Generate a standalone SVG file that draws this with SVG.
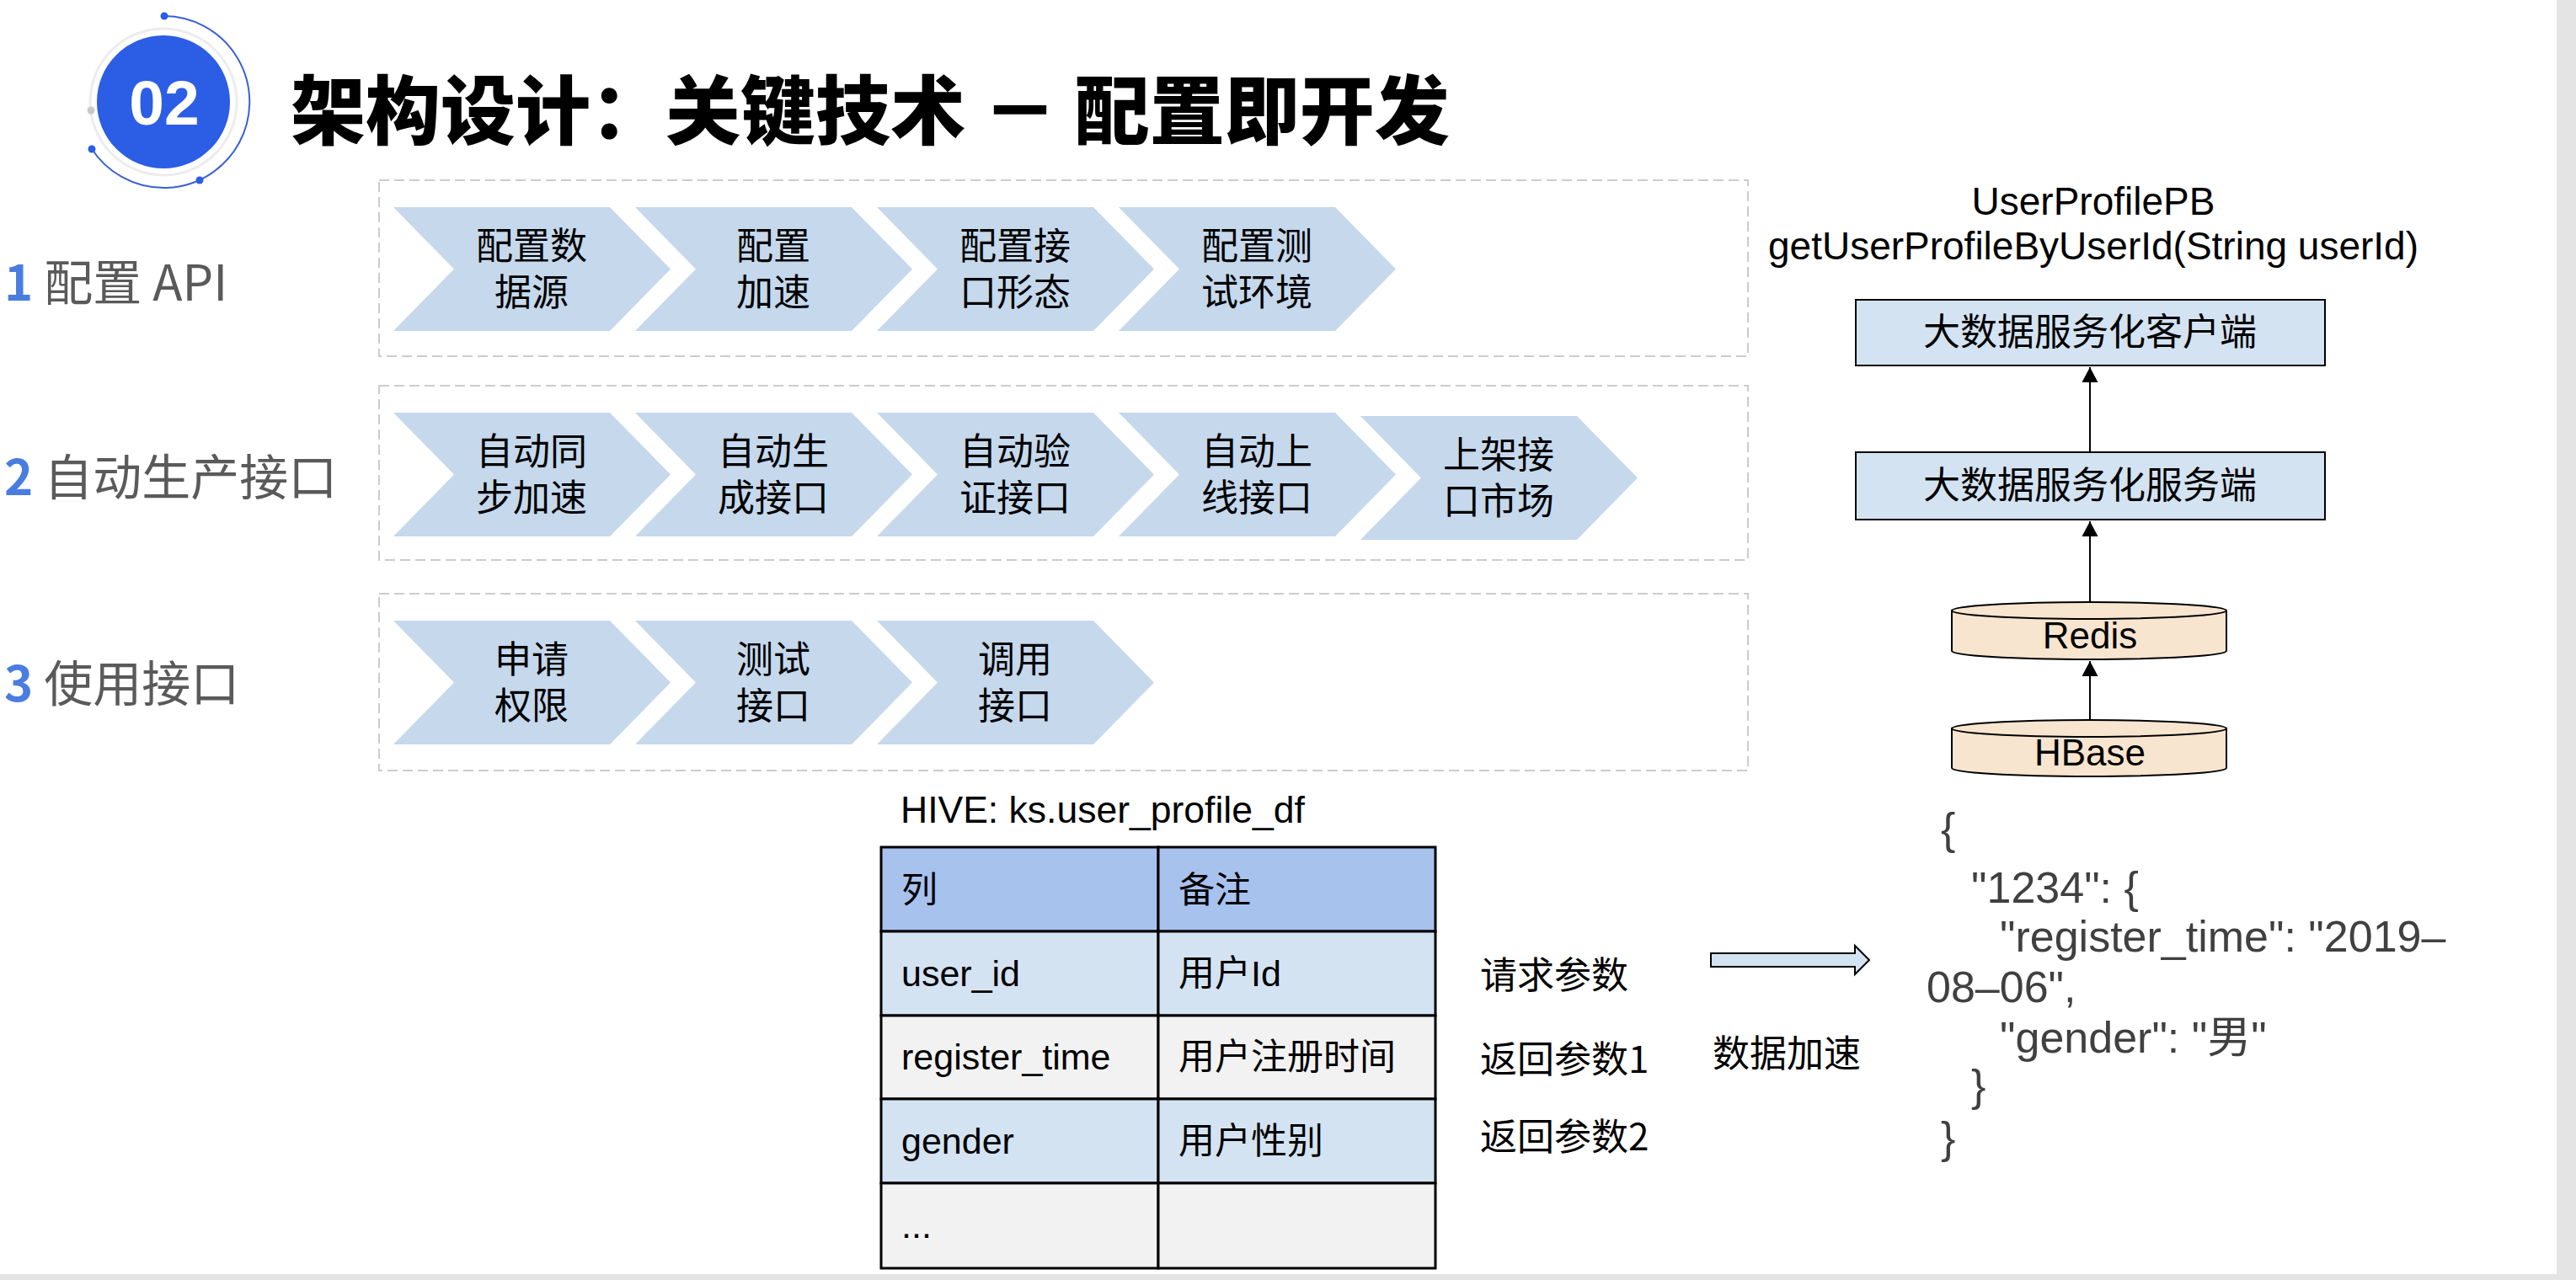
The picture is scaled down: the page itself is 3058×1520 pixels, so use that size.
<svg xmlns="http://www.w3.org/2000/svg" width="3058" height="1520" viewBox="0 0 3058 1520">
  <style>
    .cjk { font-family: "Noto Sans CJK SC", "Liberation Sans", sans-serif; }
    .lat { font-family: "Liberation Sans", "Noto Sans CJK SC", sans-serif; }
    .chev { fill: #c5d8ec; }
    .chevtxt { font-family: "Liberation Sans", "Noto Sans CJK SC", sans-serif; font-size: 44px; fill: #000; text-anchor: middle; }
    .lane { fill: none; stroke: #cccccc; stroke-width: 2; stroke-dasharray: 12 6; }
    .rowlabel { font-family: "Noto Sans CJK SC", sans-serif; font-size: 58px; fill: #5a5a5a; }
    .rownum { fill: #4a7de0; font-weight: bold; }
    .svcbox { fill: #d4e3f2; stroke: #000; stroke-width: 2; }
    .svctxt { font-family: "Noto Sans CJK SC", sans-serif; font-size: 44px; fill: #000; text-anchor: middle; }
    .db { fill: #f8e5cf; stroke: #000; stroke-width: 2; }
    .dbtxt { font-family: "Liberation Sans", sans-serif; font-size: 44px; fill: #000; text-anchor: middle; }
    .link { stroke: #000; stroke-width: 2; fill: none; marker-end: url(#tri); }
    .cell { stroke: #000; stroke-width: 3; }
    .hdr { fill: #a8c2ee; }
    .blue { fill: #d4e3f2; }
    .gray { fill: #f2f2f2; }
    .tbl { font-family: "Liberation Sans", "Noto Sans CJK SC", sans-serif; font-size: 43px; fill: #000; }
    .note { font-family: "Noto Sans CJK SC", "Liberation Sans", sans-serif; font-size: 44px; fill: #000; }
    .json { font-family: "Liberation Sans", "Noto Sans CJK SC", sans-serif; font-size: 52px; fill: #404040; }
  </style>
  <defs>
    <path id="chevron" d="M0,0 H257 L329,73.5 L257,147 H0 L72,73.5 Z"/>
    <marker id="tri" markerUnits="userSpaceOnUse" markerWidth="20" markerHeight="20" refX="18" refY="9.5" orient="auto">
      <path d="M0,0 L18,9.5 L0,19 Z" fill="#000"/>
    </marker>
  </defs>

  <rect width="3058" height="1520" fill="#fff"/>
  <!-- page frame edges -->
  <rect x="3035" y="0" width="23" height="1520" fill="#e4e4e4"/>
  <rect x="0" y="1513" width="3058" height="7" fill="#e4e4e4"/>

  <!-- section badge -->
  <g id="badge">
    <circle cx="194" cy="121" r="87" fill="none" stroke="#ececec" stroke-width="3"/>
    <circle cx="108" cy="131" r="4.5" fill="#c9c9c9"/>
    <path d="M195,19 A102,102 0 1 1 109,177" fill="none" stroke="#3a5fd8" stroke-width="2"/>
    <circle cx="195" cy="19" r="4.5" fill="#2c5de5"/>
    <circle cx="237" cy="214" r="4.5" fill="#2c5de5"/>
    <circle cx="109" cy="177" r="4.5" fill="#2c5de5"/>
    <circle cx="194" cy="121" r="79" fill="#2c5de5"/>
    <text x="195" y="148" font-family="Liberation Sans, sans-serif" font-size="75" font-weight="bold" fill="#fff" text-anchor="middle">02</text>
  </g>

  <g id="title">
    <text x="345" y="164" font-family="Noto Sans CJK SC, sans-serif" font-size="89" font-weight="900" fill="#000">架构设计：关键技术 － 配置即开发</text>
  </g>

  <!-- lane labels -->
  <g id="lane-labels">
    <text class="rowlabel" x="5" y="357"><tspan class="rownum">1</tspan> 配置 API</text>
    <text class="rowlabel" x="5" y="588"><tspan class="rownum">2</tspan> 自动生产接口</text>
    <text class="rowlabel" x="5" y="833"><tspan class="rownum">3</tspan> 使用接口</text>
  </g>

  <!-- lane frames -->
  <g id="lanes">
    <rect class="lane" x="450" y="214" width="1625" height="209"/>
    <rect class="lane" x="450" y="458" width="1625" height="207"/>
    <rect class="lane" x="450" y="705" width="1625" height="210"/>
  </g>

  <!-- lane 1: configure API -->
  <g id="step-1-1"><use href="#chevron" class="chev" x="467" y="246"/><text class="chevtxt" x="631" y="308">配置数<tspan x="631" dy="55">据源</tspan></text></g>
  <g id="step-1-2"><use href="#chevron" class="chev" x="754" y="246"/><text class="chevtxt" x="918" y="308">配置<tspan x="918" dy="55">加速</tspan></text></g>
  <g id="step-1-3"><use href="#chevron" class="chev" x="1041" y="246"/><text class="chevtxt" x="1205" y="308">配置接<tspan x="1205" dy="55">口形态</tspan></text></g>
  <g id="step-1-4"><use href="#chevron" class="chev" x="1328" y="246"/><text class="chevtxt" x="1492" y="308">配置测<tspan x="1492" dy="55">试环境</tspan></text></g>

  <!-- lane 2: generate interface -->
  <g id="step-2-1"><use href="#chevron" class="chev" x="467" y="490"/><text class="chevtxt" x="631" y="552">自动同<tspan x="631" dy="55">步加速</tspan></text></g>
  <g id="step-2-2"><use href="#chevron" class="chev" x="754" y="490"/><text class="chevtxt" x="918" y="552">自动生<tspan x="918" dy="55">成接口</tspan></text></g>
  <g id="step-2-3"><use href="#chevron" class="chev" x="1041" y="490"/><text class="chevtxt" x="1205" y="552">自动验<tspan x="1205" dy="55">证接口</tspan></text></g>
  <g id="step-2-4"><use href="#chevron" class="chev" x="1328" y="490"/><text class="chevtxt" x="1492" y="552">自动上<tspan x="1492" dy="55">线接口</tspan></text></g>
  <g id="step-2-5"><use href="#chevron" class="chev" x="1615" y="494"/><text class="chevtxt" x="1779" y="556">上架接<tspan x="1779" dy="55">口市场</tspan></text></g>

  <!-- lane 3: use interface -->
  <g id="step-3-1"><use href="#chevron" class="chev" x="467" y="737"/><text class="chevtxt" x="631" y="799">申请<tspan x="631" dy="55">权限</tspan></text></g>
  <g id="step-3-2"><use href="#chevron" class="chev" x="754" y="737"/><text class="chevtxt" x="918" y="799">测试<tspan x="918" dy="55">接口</tspan></text></g>
  <g id="step-3-3"><use href="#chevron" class="chev" x="1041" y="737"/><text class="chevtxt" x="1205" y="799">调用<tspan x="1205" dy="55">接口</tspan></text></g>

  <!-- service stack -->
  <g id="api-signature">
    <text class="lat" x="2485" y="255" font-size="46" text-anchor="middle">UserProfilePB</text>
    <text class="lat" x="2485" y="308" font-size="46" text-anchor="middle">getUserProfileByUserId(String userId)</text>
  </g>
  <g id="client">
    <rect class="svcbox" x="2203" y="356" width="557" height="78"/>
    <text class="svctxt" x="2481" y="410">大数据服务化客户端</text>
  </g>
  <g id="server">
    <rect class="svcbox" x="2203" y="537" width="557" height="80"/>
    <text class="svctxt" x="2481" y="592">大数据服务化服务端</text>
  </g>
  <g id="redis">
    <path class="db" d="M2317,725 V773 A163,10 0 0 0 2643,773 V725 Z"/>
    <ellipse class="db" cx="2480" cy="725" rx="163" ry="10"/>
    <text class="dbtxt" x="2481" y="770">Redis</text>
  </g>
  <g id="hbase">
    <path class="db" d="M2317,865 V912 A163,10 0 0 0 2643,912 V865 Z"/>
    <ellipse class="db" cx="2480" cy="865" rx="163" ry="10"/>
    <text class="dbtxt" x="2481" y="909">HBase</text>
  </g>

  <!-- hive table -->
  <g id="hive-table">
    <text class="lat" x="1069" y="977" font-size="44.5" fill="#000">HIVE: ks.user_profile_df</text>
    <rect class="cell hdr" x="1046" y="1006" width="329" height="100"/>
    <rect class="cell hdr" x="1375" y="1006" width="329" height="100"/>
    <rect class="cell blue" x="1046" y="1106" width="329" height="100"/>
    <rect class="cell blue" x="1375" y="1106" width="329" height="100"/>
    <rect class="cell gray" x="1046" y="1206" width="329" height="99"/>
    <rect class="cell gray" x="1375" y="1206" width="329" height="99"/>
    <rect class="cell blue" x="1046" y="1305" width="329" height="100"/>
    <rect class="cell blue" x="1375" y="1305" width="329" height="100"/>
    <rect class="cell gray" x="1046" y="1405" width="329" height="101"/>
    <rect class="cell gray" x="1375" y="1405" width="329" height="101"/>
    <text class="tbl" x="1070" y="1072">列</text>
    <text class="tbl" x="1399" y="1072">备注</text>
    <text class="tbl" x="1070" y="1171">user_id</text>
    <text class="tbl" x="1399" y="1171">用户Id</text>
    <text class="tbl" x="1070" y="1270">register_time</text>
    <text class="tbl" x="1399" y="1270">用户注册时间</text>
    <text class="tbl" x="1070" y="1370">gender</text>
    <text class="tbl" x="1399" y="1370">用户性别</text>
    <text class="tbl" x="1070" y="1470">...</text>
  </g>

  <g id="param-notes">
    <text class="note" x="1757" y="1174">请求参数</text>
    <text class="note" x="1757" y="1274">返回参数1</text>
    <text class="note" x="1757" y="1366">返回参数2</text>
  </g>

  <g id="accel-label">
    <text class="note" x="2033" y="1267">数据加速</text>
  </g>

  <!-- cached record -->
  <g id="cache-record" class="json">
    <text x="2304" y="1002">{</text>
    <text x="2340" y="1072">"1234": {</text>
    <text x="2374" y="1130">"register_time": "2019–</text>
    <text x="2287" y="1190">08–06",</text>
    <text x="2374" y="1250">"gender": "男"</text>
    <text x="2340" y="1307">}</text>
    <text x="2304" y="1369">}</text>
  </g>

  <!-- connectors -->
  <g id="connectors">
    <line class="link" x1="2481" y1="537" x2="2481" y2="436"/>
    <line class="link" x1="2481" y1="715" x2="2481" y2="619"/>
    <line class="link" x1="2481" y1="855" x2="2481" y2="785"/>
    <polygon points="2031,1132 2202,1132 2202,1123 2219,1140 2202,1157 2202,1148 2031,1148" fill="#d4e3f2" stroke="#000" stroke-width="2"/>
  </g>
</svg>
